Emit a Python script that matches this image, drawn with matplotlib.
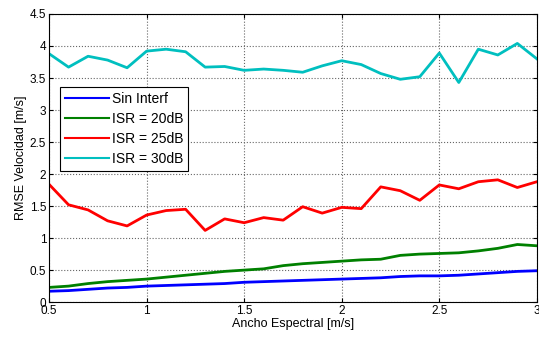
import numpy as np
import matplotlib
matplotlib.use('Agg')
import matplotlib.pyplot as plt

plt.rcParams['font.family'] = ['Liberation Sans', 'DejaVu Sans']

ancho = np.round(np.arange(0.5, 3.01, 0.1), 1)
sin_interf = [0.17, 0.18, 0.20, 0.22, 0.23, 0.25, 0.26, 0.27, 0.28, 0.29, 0.31, 0.32, 0.33,
              0.34, 0.35, 0.36, 0.37, 0.38, 0.40, 0.41, 0.41, 0.42, 0.44, 0.46, 0.48, 0.49]
isr20 = [0.23, 0.25, 0.29, 0.32, 0.34, 0.36, 0.39, 0.42, 0.45, 0.48, 0.50, 0.52, 0.57,
         0.60, 0.62, 0.64, 0.66, 0.67, 0.73, 0.75, 0.76, 0.77, 0.80, 0.84, 0.90, 0.88]
isr25 = [1.84, 1.52, 1.44, 1.27, 1.19, 1.36, 1.43, 1.45, 1.12, 1.30, 1.24, 1.32, 1.28,
         1.49, 1.39, 1.48, 1.46, 1.80, 1.74, 1.59, 1.83, 1.77, 1.88, 1.91, 1.79, 1.88]
isr30 = [3.88, 3.67, 3.84, 3.78, 3.66, 3.92, 3.95, 3.91, 3.67, 3.68, 3.62, 3.64, 3.62,
         3.59, 3.69, 3.77, 3.71, 3.57, 3.48, 3.52, 3.89, 3.43, 3.95, 3.86, 4.04, 3.80]

fig = plt.figure(figsize=(5.39, 3.41), dpi=100)
ax = fig.add_axes([0.091, 0.114, 0.905, 0.845])

ax.plot(ancho, sin_interf, color=(0, 0, 1), lw=2, label='Sin Interf')
ax.plot(ancho, isr20, color=(0, 0.5, 0), lw=2, label='ISR = 20dB')
ax.plot(ancho, isr25, color=(1, 0, 0), lw=2, label='ISR = 25dB')
ax.plot(ancho, isr30, color=(0, 0.75, 0.75), lw=2, label='ISR = 30dB')

ax.set_xlim(0.5, 3)
ax.set_ylim(0, 4.5)
ax.set_xticks([0.5, 1, 1.5, 2, 2.5, 3])
ax.set_xticklabels(['0.5', '1', '1.5', '2', '2.5', '3'])
ax.set_yticks(np.arange(0, 4.51, 0.5))
ax.set_yticklabels(['0', '0.5', '1', '1.5', '2', '2.5', '3', '3.5', '4', '4.5'])
ax.grid(True, linestyle=':', color='#666666', linewidth=0.8)
ax.tick_params(direction='in', labelsize=8.5, length=3, pad=2, top=True, right=True)
ax.set_xlabel('Ancho Espectral [m/s]', fontsize=9, labelpad=1)
ax.set_ylabel('RMSE Velocidad [m/s]', fontsize=9, labelpad=2)

leg = ax.legend(loc='upper left', bbox_to_anchor=(0.022, 0.745), fontsize=10,
                fancybox=False, framealpha=1, edgecolor='black', handlelength=3.2,
                handletextpad=0.2, borderpad=0.35, labelspacing=0.42, borderaxespad=0)
leg.get_frame().set_linewidth(0.8)
for line in leg.get_lines():
    line.set_linewidth(1.5)

fig.savefig('out.png', dpi=100)
